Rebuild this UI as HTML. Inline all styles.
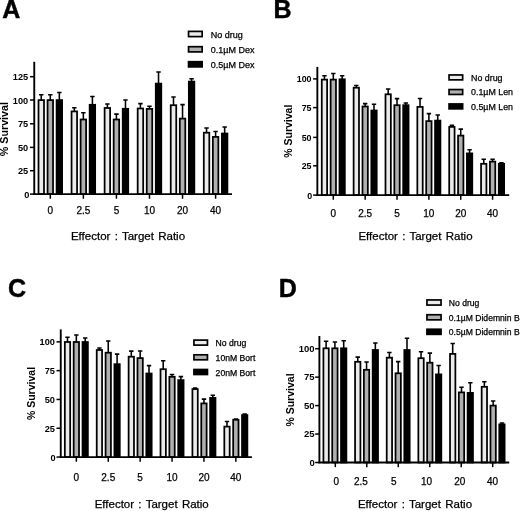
<!DOCTYPE html>
<html lang="en">
<head>
<meta charset="utf-8">
<title>Figure</title>
<style>
html,body{margin:0;padding:0;background:#fff;}
body{width:520px;height:511px;overflow:hidden;}
svg{display:block;font-family:"Liberation Sans", Arial, Helvetica, sans-serif;will-change:transform;}
.ax{stroke:#000;stroke-width:1.9;fill:none;stroke-linecap:butt;}
.axx{stroke:#000;stroke-width:1.8;fill:none;}
.tk{stroke:#000;stroke-width:1.5;fill:none;}
.eb{stroke:#000;stroke-width:1.55;fill:none;}
.b{stroke:#000;stroke-width:1.75;}
.lb{stroke:#000;stroke-width:1.7;}
.ytl{font-weight:bold;text-anchor:end;}
.xtl{font-size:10px;text-anchor:middle;}
.xl{font-size:11.5px;text-anchor:middle;word-spacing:1.1px;}
.yl{font-weight:bold;text-anchor:middle;}
.lt,.xtl,.xl{stroke:#000;stroke-width:0.25px;}
.pl{font-size:25px;font-weight:bold;stroke:#000;stroke-width:0.45;stroke-linejoin:miter;}
</style>
</head>
<body>
<svg width="520" height="511" viewBox="0 0 520 511">
<rect width="520" height="511" fill="#fff"/>
<g>
<text class="pl" x="2.3" y="18">A</text>
<path class="eb" d="M41.25 100.1 V94.7 M39.05 94.7 H43.45"/>
<rect class="b" x="38.5" y="100.1" width="5.5" height="94" fill="#ebebeb"/>
<path class="eb" d="M50.3 100.1 V94.7 M48.1 94.7 H52.5"/>
<rect class="b" x="47.55" y="100.1" width="5.5" height="94" fill="#b0b0b0"/>
<path class="eb" d="M59.35 100.1 V92.5 M57.15 92.5 H61.55"/>
<rect class="b" x="56.6" y="100.1" width="5.5" height="94" fill="#000"/>
<path class="eb" d="M74.31 111.4 V107.8 M72.11 107.8 H76.51"/>
<rect class="b" x="71.56" y="111.4" width="5.5" height="82.7" fill="#ebebeb"/>
<path class="eb" d="M83.36 119.5 V112.7 M81.16 112.7 H85.56"/>
<rect class="b" x="80.61" y="119.5" width="5.5" height="74.6" fill="#b0b0b0"/>
<path class="eb" d="M92.41 104.8 V96.5 M90.21 96.5 H94.61"/>
<rect class="b" x="89.66" y="104.8" width="5.5" height="89.3" fill="#000"/>
<path class="eb" d="M107.37 108 V104 M105.17 104 H109.57"/>
<rect class="b" x="104.62" y="108" width="5.5" height="86.1" fill="#ebebeb"/>
<path class="eb" d="M116.42 119.5 V114.1 M114.22 114.1 H118.62"/>
<rect class="b" x="113.67" y="119.5" width="5.5" height="74.6" fill="#b0b0b0"/>
<path class="eb" d="M125.47 108.8 V99.9 M123.27 99.9 H127.67"/>
<rect class="b" x="122.72" y="108.8" width="5.5" height="85.3" fill="#000"/>
<path class="eb" d="M140.43 108.5 V103.6 M138.23 103.6 H142.63"/>
<rect class="b" x="137.68" y="108.5" width="5.5" height="85.6" fill="#ebebeb"/>
<path class="eb" d="M149.48 108.9 V106.2 M147.28 106.2 H151.68"/>
<rect class="b" x="146.73" y="108.9" width="5.5" height="85.2" fill="#b0b0b0"/>
<path class="eb" d="M158.53 83.6 V71.9 M156.33 71.9 H160.73"/>
<rect class="b" x="155.78" y="83.6" width="5.5" height="110.5" fill="#000"/>
<path class="eb" d="M173.49 105.2 V97 M171.29 97 H175.69"/>
<rect class="b" x="170.74" y="105.2" width="5.5" height="88.9" fill="#ebebeb"/>
<path class="eb" d="M182.54 118.6 V104.6 M180.34 104.6 H184.74"/>
<rect class="b" x="179.79" y="118.6" width="5.5" height="75.5" fill="#b0b0b0"/>
<path class="eb" d="M191.59 81.6 V78.8 M189.39 78.8 H193.79"/>
<rect class="b" x="188.84" y="81.6" width="5.5" height="112.5" fill="#000"/>
<path class="eb" d="M206.55 132.7 V127.9 M204.35 127.9 H208.75"/>
<rect class="b" x="203.8" y="132.7" width="5.5" height="61.4" fill="#ebebeb"/>
<path class="eb" d="M215.6 136.9 V131.5 M213.4 131.5 H217.8"/>
<rect class="b" x="212.85" y="136.9" width="5.5" height="57.2" fill="#b0b0b0"/>
<path class="eb" d="M224.65 133.5 V126.9 M222.45 126.9 H226.85"/>
<rect class="b" x="221.9" y="133.5" width="5.5" height="60.6" fill="#000"/>
<path class="ax" d="M34.25 61.8 V194.88"/>
<path class="axx" d="M33.3 194.1 H232"/>
<path class="tk" d="M30 194.1 H34.25"/>
<text class="ytl" font-size="9.2" x="29.25" y="198.45">0</text>
<path class="tk" d="M30 170.7 H34.25"/>
<text class="ytl" font-size="9.2" x="28.15" y="174.3">25</text>
<path class="tk" d="M30 147.4 H34.25"/>
<text class="ytl" font-size="9.2" x="28.15" y="151">50</text>
<path class="tk" d="M30 123.8 H34.25"/>
<text class="ytl" font-size="9.2" x="28.15" y="127.4">75</text>
<path class="tk" d="M30 100 H34.25"/>
<text class="ytl" font-size="9.2" x="28.15" y="103.6">100</text>
<path class="tk" d="M30 76.7 H34.25"/>
<text class="ytl" font-size="9.2" x="28.15" y="80.3">125</text>
<path class="tk" d="M50.3 194.1 V198.75"/>
<text class="xtl" x="50.3" y="214">0</text>
<path class="tk" d="M83.36 194.1 V198.75"/>
<text class="xtl" x="83.36" y="214">2.5</text>
<path class="tk" d="M116.42 194.1 V198.75"/>
<text class="xtl" x="116.42" y="214">5</text>
<path class="tk" d="M149.48 194.1 V198.75"/>
<text class="xtl" x="149.48" y="214">10</text>
<path class="tk" d="M182.54 194.1 V198.75"/>
<text class="xtl" x="182.54" y="214">20</text>
<path class="tk" d="M215.6 194.1 V198.75"/>
<text class="xtl" x="215.6" y="214">40</text>
<text class="xl" x="128" y="240.3">Effector : Target Ratio</text>
<text class="yl" font-size="10.7" transform="translate(7.7 129.1) rotate(-90)">% Survival</text>
<rect class="lb" x="188.55" y="31.4" width="13.6" height="5.2" fill="#ebebeb"/>
<text class="lt" font-size="9" x="210.7" y="37.7">No drug</text>
<rect class="lb" x="188.55" y="46.7" width="13.6" height="5.2" fill="#b0b0b0"/>
<text class="lt" font-size="9" x="210.7" y="53">0.1µM Dex</text>
<rect class="lb" x="188.55" y="61.7" width="13.6" height="5.2" fill="#000"/>
<text class="lt" font-size="9" x="210.7" y="68">0.5µM Dex</text>
</g>
<g>
<text class="pl" x="273.4" y="18">B</text>
<path class="eb" d="M324.45 79.6 V75.7 M322.25 75.7 H326.65"/>
<rect class="b" x="321.77" y="79.6" width="5.35" height="115.5" fill="#ebebeb"/>
<path class="eb" d="M333.3 79.6 V73.4 M331.1 73.4 H335.5"/>
<rect class="b" x="330.62" y="79.6" width="5.35" height="115.5" fill="#b0b0b0"/>
<path class="eb" d="M342.15 79.3 V75.7 M339.95 75.7 H344.35"/>
<rect class="b" x="339.48" y="79.3" width="5.35" height="115.8" fill="#000"/>
<path class="eb" d="M356.31 87.7 V85.5 M354.11 85.5 H358.51"/>
<rect class="b" x="353.63" y="87.7" width="5.35" height="107.4" fill="#ebebeb"/>
<path class="eb" d="M365.16 106.5 V103.6 M362.96 103.6 H367.36"/>
<rect class="b" x="362.49" y="106.5" width="5.35" height="88.6" fill="#b0b0b0"/>
<path class="eb" d="M374.01 110.5 V104.2 M371.81 104.2 H376.21"/>
<rect class="b" x="371.34" y="110.5" width="5.35" height="84.6" fill="#000"/>
<path class="eb" d="M388.17 94.3 V88.9 M385.97 88.9 H390.37"/>
<rect class="b" x="385.49" y="94.3" width="5.35" height="100.8" fill="#ebebeb"/>
<path class="eb" d="M397.02 105.2 V98.6 M394.82 98.6 H399.22"/>
<rect class="b" x="394.34" y="105.2" width="5.35" height="89.9" fill="#b0b0b0"/>
<path class="eb" d="M405.87 105.2 V103 M403.67 103 H408.07"/>
<rect class="b" x="403.19" y="105.2" width="5.35" height="89.9" fill="#000"/>
<path class="eb" d="M420.03 106.9 V98.5 M417.83 98.5 H422.23"/>
<rect class="b" x="417.35" y="106.9" width="5.35" height="88.2" fill="#ebebeb"/>
<path class="eb" d="M428.88 121.1 V113.6 M426.68 113.6 H431.08"/>
<rect class="b" x="426.2" y="121.1" width="5.35" height="74" fill="#b0b0b0"/>
<path class="eb" d="M437.73 120.6 V114.9 M435.53 114.9 H439.93"/>
<rect class="b" x="435.06" y="120.6" width="5.35" height="74.5" fill="#000"/>
<path class="eb" d="M451.89 126.9 V125.3 M449.69 125.3 H454.09"/>
<rect class="b" x="449.21" y="126.9" width="5.35" height="68.2" fill="#ebebeb"/>
<path class="eb" d="M460.74 135.6 V129.1 M458.54 129.1 H462.94"/>
<rect class="b" x="458.06" y="135.6" width="5.35" height="59.5" fill="#b0b0b0"/>
<path class="eb" d="M469.59 153.4 V149.7 M467.39 149.7 H471.79"/>
<rect class="b" x="466.92" y="153.4" width="5.35" height="41.7" fill="#000"/>
<path class="eb" d="M483.75 163.8 V159.2 M481.55 159.2 H485.95"/>
<rect class="b" x="481.07" y="163.8" width="5.35" height="31.3" fill="#ebebeb"/>
<path class="eb" d="M492.6 161.6 V159.2 M490.4 159.2 H494.8"/>
<rect class="b" x="489.93" y="161.6" width="5.35" height="33.5" fill="#b0b0b0"/>
<path class="eb" d="M501.45 163.8 V162.8 M499.25 162.8 H503.65"/>
<rect class="b" x="498.78" y="163.8" width="5.35" height="31.3" fill="#000"/>
<path class="ax" d="M317.35 66.9 V195.88"/>
<path class="axx" d="M316.4 195.1 H509.2"/>
<path class="tk" d="M313.1 195.1 H317.35"/>
<text class="ytl" font-size="8.9" x="312.25" y="198.65">0</text>
<path class="tk" d="M313.1 165.8 H317.35"/>
<text class="ytl" font-size="8.9" x="311.55" y="169.2">25</text>
<path class="tk" d="M313.1 137.4 H317.35"/>
<text class="ytl" font-size="8.9" x="311.55" y="140.8">50</text>
<path class="tk" d="M313.1 107.6 H317.35"/>
<text class="ytl" font-size="8.9" x="311.55" y="111">75</text>
<path class="tk" d="M313.1 78.9 H317.35"/>
<text class="ytl" font-size="8.9" x="311.55" y="82.3">100</text>
<path class="tk" d="M333.3 195.1 V199.75"/>
<text class="xtl" x="333.3" y="217">0</text>
<path class="tk" d="M365.16 195.1 V199.75"/>
<text class="xtl" x="365.16" y="217">2.5</text>
<path class="tk" d="M397.02 195.1 V199.75"/>
<text class="xtl" x="397.02" y="217">5</text>
<path class="tk" d="M428.88 195.1 V199.75"/>
<text class="xtl" x="428.88" y="217">10</text>
<path class="tk" d="M460.74 195.1 V199.75"/>
<text class="xtl" x="460.74" y="217">20</text>
<path class="tk" d="M492.6 195.1 V199.75"/>
<text class="xtl" x="492.6" y="217">40</text>
<text class="xl" x="415.5" y="239.9">Effector : Target Ratio</text>
<text class="yl" font-size="10.5" transform="translate(291.6 131.2) rotate(-90)">% Survival</text>
<rect class="lb" x="449.05" y="74.95" width="13.6" height="4.9" fill="#ebebeb"/>
<text class="lt" font-size="8.85" x="471" y="80.8">No drug</text>
<rect class="lb" x="449.05" y="89.55" width="13.6" height="4.9" fill="#b0b0b0"/>
<text class="lt" font-size="8.85" x="471" y="95.4">0.1µM Len</text>
<rect class="lb" x="449.05" y="103.95" width="13.6" height="4.9" fill="#000"/>
<text class="lt" font-size="8.85" x="471" y="109.8">0.5µM Len</text>
</g>
<g>
<text class="pl" x="8" y="297.4">C</text>
<path class="eb" d="M67.5 342 V337.3 M65.3 337.3 H69.7"/>
<rect class="b" x="64.83" y="342" width="5.35" height="115.05" fill="#ebebeb"/>
<path class="eb" d="M76.35 342 V334.9 M74.15 334.9 H78.55"/>
<rect class="b" x="73.67" y="342" width="5.35" height="115.05" fill="#b0b0b0"/>
<path class="eb" d="M85.2 342 V337.9 M83 337.9 H87.4"/>
<rect class="b" x="82.52" y="342" width="5.35" height="115.05" fill="#000"/>
<path class="eb" d="M99.4 350 V348 M97.2 348 H101.6"/>
<rect class="b" x="96.73" y="350" width="5.35" height="107.05" fill="#ebebeb"/>
<path class="eb" d="M108.25 352.7 V341 M106.05 341 H110.45"/>
<rect class="b" x="105.58" y="352.7" width="5.35" height="104.35" fill="#b0b0b0"/>
<path class="eb" d="M117.1 364.2 V354.1 M114.9 354.1 H119.3"/>
<rect class="b" x="114.42" y="364.2" width="5.35" height="92.85" fill="#000"/>
<path class="eb" d="M131.3 356.7 V351.1 M129.1 351.1 H133.5"/>
<rect class="b" x="128.62" y="356.7" width="5.35" height="100.35" fill="#ebebeb"/>
<path class="eb" d="M140.15 358.1 V350.9 M137.95 350.9 H142.35"/>
<rect class="b" x="137.47" y="358.1" width="5.35" height="98.95" fill="#b0b0b0"/>
<path class="eb" d="M149 373.5 V365.6 M146.8 365.6 H151.2"/>
<rect class="b" x="146.32" y="373.5" width="5.35" height="83.55" fill="#000"/>
<path class="eb" d="M163.2 369.2 V360.8 M161 360.8 H165.4"/>
<rect class="b" x="160.52" y="369.2" width="5.35" height="87.85" fill="#ebebeb"/>
<path class="eb" d="M172.05 376.8 V374.4 M169.85 374.4 H174.25"/>
<rect class="b" x="169.37" y="376.8" width="5.35" height="80.25" fill="#b0b0b0"/>
<path class="eb" d="M180.9 380.1 V376.6 M178.7 376.6 H183.1"/>
<rect class="b" x="178.22" y="380.1" width="5.35" height="76.95" fill="#000"/>
<path class="eb" d="M195.1 389.1 V388.1 M192.9 388.1 H197.3"/>
<rect class="b" x="192.42" y="389.1" width="5.35" height="67.95" fill="#ebebeb"/>
<path class="eb" d="M203.95 403.4 V399.1 M201.75 399.1 H206.15"/>
<rect class="b" x="201.27" y="403.4" width="5.35" height="53.65" fill="#b0b0b0"/>
<path class="eb" d="M212.8 397.9 V395.2 M210.6 395.2 H215"/>
<rect class="b" x="210.12" y="397.9" width="5.35" height="59.15" fill="#000"/>
<path class="eb" d="M227 426.6 V421.5 M224.8 421.5 H229.2"/>
<rect class="b" x="224.32" y="426.6" width="5.35" height="30.45" fill="#ebebeb"/>
<path class="eb" d="M235.85 419.8 V419 M233.65 419 H238.05"/>
<rect class="b" x="233.17" y="419.8" width="5.35" height="37.25" fill="#b0b0b0"/>
<path class="eb" d="M244.7 415.1 V414.1 M242.5 414.1 H246.9"/>
<rect class="b" x="242.02" y="415.1" width="5.35" height="41.95" fill="#000"/>
<path class="ax" d="M60.75 329.4 V457.83"/>
<path class="axx" d="M59.8 457.05 H251.9"/>
<path class="tk" d="M56.5 457.05 H60.75"/>
<text class="ytl" font-size="9.2" x="55.65" y="460.9">0</text>
<path class="tk" d="M56.5 428.25 H60.75"/>
<text class="ytl" font-size="9.2" x="54.95" y="431.65">25</text>
<path class="tk" d="M56.5 399.45 H60.75"/>
<text class="ytl" font-size="9.2" x="54.95" y="402.85">50</text>
<path class="tk" d="M56.5 370.65 H60.75"/>
<text class="ytl" font-size="9.2" x="54.95" y="374.05">75</text>
<path class="tk" d="M56.5 341.85 H60.75"/>
<text class="ytl" font-size="9.2" x="54.95" y="345.25">100</text>
<path class="tk" d="M76.35 457.05 V461.7"/>
<text class="xtl" x="76.35" y="481">0</text>
<path class="tk" d="M108.25 457.05 V461.7"/>
<text class="xtl" x="108.25" y="481">2.5</text>
<path class="tk" d="M140.15 457.05 V461.7"/>
<text class="xtl" x="140.15" y="481">5</text>
<path class="tk" d="M172.05 457.05 V461.7"/>
<text class="xtl" x="172.05" y="481">10</text>
<path class="tk" d="M203.95 457.05 V461.7"/>
<text class="xtl" x="203.95" y="481">20</text>
<path class="tk" d="M235.85 457.05 V461.7"/>
<text class="xtl" x="235.85" y="481">40</text>
<text class="xl" x="151.7" y="507.8">Effector : Target Ratio</text>
<text class="yl" font-size="10.5" transform="translate(35.3 393.5) rotate(-90)">% Survival</text>
<rect class="lb" x="193.95" y="340.1" width="13.5" height="5" fill="#ebebeb"/>
<text class="lt" font-size="8.65" x="215.6" y="346.2">No drug</text>
<rect class="lb" x="193.95" y="354.8" width="13.5" height="5" fill="#b0b0b0"/>
<text class="lt" font-size="8.65" x="215.6" y="360.9">10nM Bort</text>
<rect class="lb" x="193.95" y="369.5" width="13.5" height="5" fill="#000"/>
<text class="lt" font-size="8.65" x="215.6" y="375.6">20nM Bort</text>
</g>
<g>
<text class="pl" x="278.7" y="297">D</text>
<path class="eb" d="M326.1 348.3 V341.3 M323.9 341.3 H328.3"/>
<rect class="b" x="323.42" y="348.3" width="5.35" height="114.2" fill="#ebebeb"/>
<path class="eb" d="M334.9 348.3 V342 M332.7 342 H337.1"/>
<rect class="b" x="332.22" y="348.3" width="5.35" height="114.2" fill="#b0b0b0"/>
<path class="eb" d="M343.7 348.3 V340.7 M341.5 340.7 H345.9"/>
<rect class="b" x="341.02" y="348.3" width="5.35" height="114.2" fill="#000"/>
<path class="eb" d="M357.75 361.8 V357.1 M355.55 357.1 H359.95"/>
<rect class="b" x="355.07" y="361.8" width="5.35" height="100.7" fill="#ebebeb"/>
<path class="eb" d="M366.55 369.8 V362 M364.35 362 H368.75"/>
<rect class="b" x="363.87" y="369.8" width="5.35" height="92.7" fill="#b0b0b0"/>
<path class="eb" d="M375.35 350 V343 M373.15 343 H377.55"/>
<rect class="b" x="372.67" y="350" width="5.35" height="112.5" fill="#000"/>
<path class="eb" d="M389.4 357.7 V352.5 M387.2 352.5 H391.6"/>
<rect class="b" x="386.72" y="357.7" width="5.35" height="104.8" fill="#ebebeb"/>
<path class="eb" d="M398.2 373.3 V361.6 M396 361.6 H400.4"/>
<rect class="b" x="395.52" y="373.3" width="5.35" height="89.2" fill="#b0b0b0"/>
<path class="eb" d="M407 350 V338.3 M404.8 338.3 H409.2"/>
<rect class="b" x="404.32" y="350" width="5.35" height="112.5" fill="#000"/>
<path class="eb" d="M421.05 358.2 V351.7 M418.85 351.7 H423.25"/>
<rect class="b" x="418.37" y="358.2" width="5.35" height="104.3" fill="#ebebeb"/>
<path class="eb" d="M429.85 362.7 V353.1 M427.65 353.1 H432.05"/>
<rect class="b" x="427.17" y="362.7" width="5.35" height="99.8" fill="#b0b0b0"/>
<path class="eb" d="M438.65 374.4 V365.5 M436.45 365.5 H440.85"/>
<rect class="b" x="435.97" y="374.4" width="5.35" height="88.1" fill="#000"/>
<path class="eb" d="M452.7 353.9 V343.4 M450.5 343.4 H454.9"/>
<rect class="b" x="450.02" y="353.9" width="5.35" height="108.6" fill="#ebebeb"/>
<path class="eb" d="M461.5 392.4 V387.2 M459.3 387.2 H463.7"/>
<rect class="b" x="458.82" y="392.4" width="5.35" height="70.1" fill="#b0b0b0"/>
<path class="eb" d="M470.3 392.9 V382.7 M468.1 382.7 H472.5"/>
<rect class="b" x="467.62" y="392.9" width="5.35" height="69.6" fill="#000"/>
<path class="eb" d="M484.35 386.8 V381.8 M482.15 381.8 H486.55"/>
<rect class="b" x="481.67" y="386.8" width="5.35" height="75.7" fill="#ebebeb"/>
<path class="eb" d="M493.15 405.6 V401 M490.95 401 H495.35"/>
<rect class="b" x="490.47" y="405.6" width="5.35" height="56.9" fill="#b0b0b0"/>
<path class="eb" d="M501.95 424.4 V423 M499.75 423 H504.15"/>
<rect class="b" x="499.27" y="424.4" width="5.35" height="38.1" fill="#000"/>
<path class="ax" d="M319.4 336 V463.28"/>
<path class="axx" d="M318.45 462.5 H509.2"/>
<path class="tk" d="M315.15 462.5 H319.4"/>
<text class="ytl" font-size="9.5" x="314.8" y="466.1">0</text>
<path class="tk" d="M315.15 434.05 H319.4"/>
<text class="ytl" font-size="9.5" x="314.5" y="437.25">25</text>
<path class="tk" d="M315.15 405.6 H319.4"/>
<text class="ytl" font-size="9.5" x="314.5" y="408.8">50</text>
<path class="tk" d="M315.15 377.15 H319.4"/>
<text class="ytl" font-size="9.5" x="314.5" y="380.35">75</text>
<path class="tk" d="M315.15 348.7 H319.4"/>
<text class="ytl" font-size="9.5" x="314.5" y="351.9">100</text>
<path class="tk" d="M335.3 462.5 V467.15"/>
<text class="xtl" x="336.4" y="485">0</text>
<path class="tk" d="M366.78 462.5 V467.15"/>
<text class="xtl" x="360.9" y="485">2.5</text>
<path class="tk" d="M398.26 462.5 V467.15"/>
<text class="xtl" x="393.7" y="485">5</text>
<path class="tk" d="M429.74 462.5 V467.15"/>
<text class="xtl" x="426.5" y="485">10</text>
<path class="tk" d="M461.22 462.5 V467.15"/>
<text class="xtl" x="459.7" y="485">20</text>
<path class="tk" d="M492.7 462.5 V467.15"/>
<text class="xtl" x="492.5" y="485">40</text>
<text class="xl" x="415" y="508.3">Effector : Target Ratio</text>
<text class="yl" font-size="10.5" transform="translate(294.4 400) rotate(-90)">% Survival</text>
<rect class="lb" x="426.95" y="299.95" width="14.1" height="5.1" fill="#ebebeb"/>
<text class="lt" font-size="8.6" x="448.8" y="305.9">No drug</text>
<rect class="lb" x="426.95" y="314.75" width="14.1" height="5.1" fill="#b0b0b0"/>
<text class="lt" font-size="8.6" x="448.8" y="320.7">0.1µM Didemnin B</text>
<rect class="lb" x="426.95" y="329.25" width="14.1" height="5.1" fill="#000"/>
<text class="lt" font-size="8.6" x="448.8" y="335.2">0.5µM Didemnin B</text>
</g>
</svg>
</body>
</html>
